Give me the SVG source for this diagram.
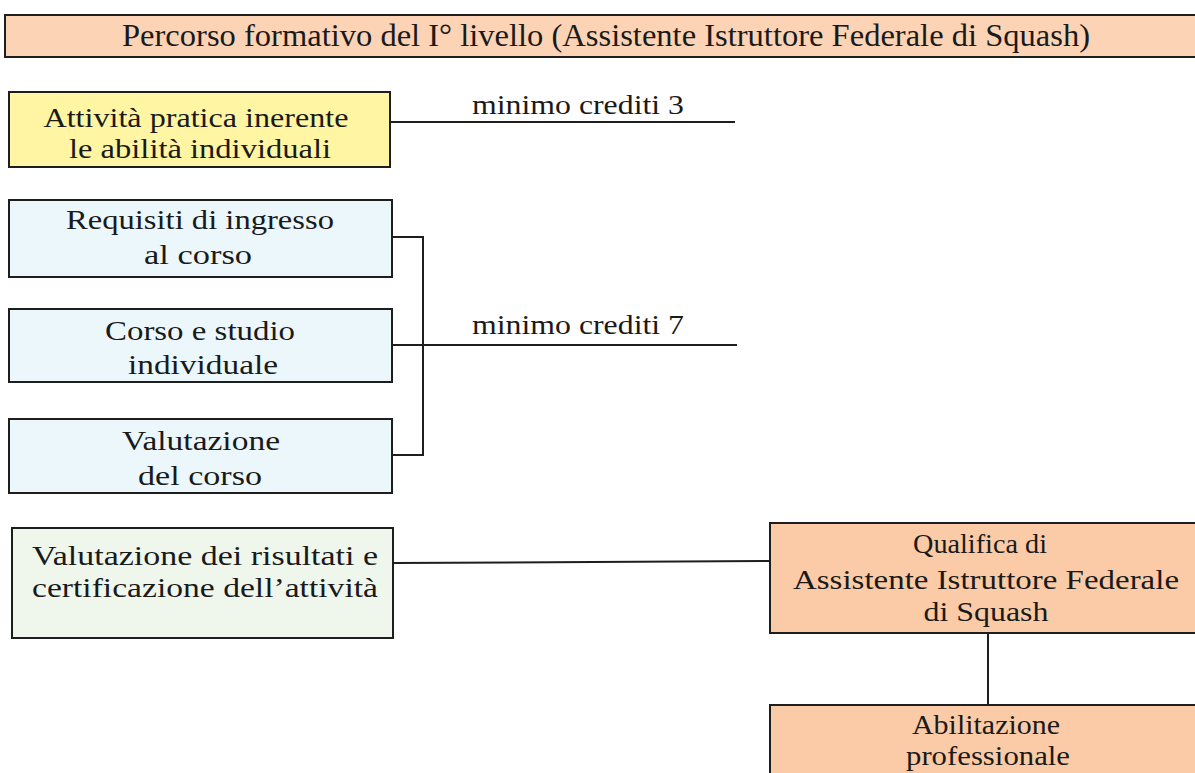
<svg xmlns="http://www.w3.org/2000/svg" width="1195" height="773" viewBox="0 0 1195 773">
<style>
.box{stroke:#1e1e1e;stroke-width:2}
.t{font-family:"Liberation Serif","DejaVu Serif",serif;font-size:28px;fill:#1a1a1a;text-anchor:middle}
.h{font-size:31px}
.ln{stroke:#1e1e1e;stroke-width:2;fill:none}
</style>
<rect width="1195" height="773" fill="#ffffff"/>
<g id="title">
<rect class="box" x="5" y="15" width="1195" height="42" fill="#FCD3B4"/>
<text class="t h" x="606" y="46" textLength="968" lengthAdjust="spacingAndGlyphs">Percorso formativo del I° livello (Assistente Istruttore Federale di Squash)</text>
</g>
<g id="connectors">
<line class="ln" x1="390" y1="122" x2="735" y2="122"/>
<polyline class="ln" points="392,237 423,237 423,455 392,455"/>
<line class="ln" x1="392" y1="345" x2="737" y2="345"/>
<line class="ln" x1="393" y1="563" x2="770" y2="561"/>
<line class="ln" x1="988" y1="633" x2="988" y2="705"/>
</g>
<g id="credits3">
<text class="t" x="578" y="114" textLength="212" lengthAdjust="spacingAndGlyphs">minimo crediti 3</text>
</g>
<g id="credits7">
<text class="t" x="578" y="334" textLength="212" lengthAdjust="spacingAndGlyphs">minimo crediti 7</text>
</g>
<g id="attivita">
<rect class="box" x="9" y="92" width="381" height="75" fill="#FFF5A3"/>
<text class="t" x="196" y="127" textLength="305" lengthAdjust="spacingAndGlyphs">Attività pratica inerente</text>
<text class="t" x="200" y="158" textLength="262" lengthAdjust="spacingAndGlyphs">le abilità individuali</text>
</g>
<g id="requisiti">
<rect class="box" x="9" y="200" width="383" height="77" fill="#ECF7FB"/>
<text class="t" x="200" y="229" textLength="268" lengthAdjust="spacingAndGlyphs">Requisiti di ingresso</text>
<text class="t" x="198" y="264" textLength="108" lengthAdjust="spacingAndGlyphs">al corso</text>
</g>
<g id="corso">
<rect class="box" x="9" y="309" width="383" height="73" fill="#ECF7FB"/>
<text class="t" x="200" y="340" textLength="190" lengthAdjust="spacingAndGlyphs">Corso e studio</text>
<text class="t" x="203" y="374" textLength="150" lengthAdjust="spacingAndGlyphs">individuale</text>
</g>
<g id="valutazione">
<rect class="box" x="9" y="419" width="383" height="74" fill="#ECF7FB"/>
<text class="t" x="201" y="450" textLength="158" lengthAdjust="spacingAndGlyphs">Valutazione</text>
<text class="t" x="200" y="485" textLength="124" lengthAdjust="spacingAndGlyphs">del corso</text>
</g>
<g id="certificazione">
<rect class="box" x="12" y="528" width="381" height="110" fill="#EFF6EC"/>
<text class="t" x="205" y="565" textLength="346" lengthAdjust="spacingAndGlyphs">Valutazione dei risultati e</text>
<text class="t" x="205" y="597" textLength="346" lengthAdjust="spacingAndGlyphs">certificazione dell’attività</text>
</g>
<g id="qualifica">
<rect class="box" x="770" y="523" width="430" height="110" fill="#FACBA6"/>
<text class="t" x="980" y="553" textLength="134" lengthAdjust="spacingAndGlyphs">Qualifica di</text>
<text class="t" x="986" y="589" textLength="386" lengthAdjust="spacingAndGlyphs">Assistente Istruttore Federale</text>
<text class="t" x="986" y="621" textLength="125" lengthAdjust="spacingAndGlyphs">di Squash</text>
</g>
<g id="abilitazione">
<rect class="box" x="770" y="705" width="430" height="75" fill="#FACBA6"/>
<text class="t" x="986" y="734" textLength="148" lengthAdjust="spacingAndGlyphs">Abilitazione</text>
<text class="t" x="988" y="765" textLength="164" lengthAdjust="spacingAndGlyphs">professionale</text>
</g>
</svg>
